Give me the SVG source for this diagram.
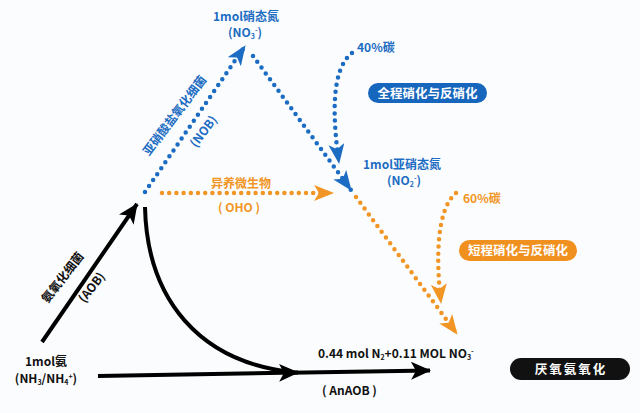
<svg xmlns="http://www.w3.org/2000/svg" width="640" height="413" viewBox="0 0 640 413">
<style>
text{font-family:"Noto Sans CJK SC","Noto Sans",sans-serif;font-weight:bold;}
.b{fill:#1b6cc2;font-size:12px;}
.o{fill:#f19524;font-size:12px;}
.k{fill:#111;font-size:12px;}
.w{fill:#fff;font-size:12.5px;}
.db{fill:none;stroke:#1b6cc2;stroke-width:4.5;stroke-linecap:round;stroke-dasharray:0 7.2;}
.do{fill:none;stroke:#f19524;stroke-width:4.5;stroke-linecap:round;stroke-dasharray:0 7.2;}
.sk{fill:none;stroke:#000;stroke-width:4;}
</style>
<defs>
<marker id="ab" viewBox="0 0 20 16" refX="19" refY="8" markerWidth="20" markerHeight="16" markerUnits="userSpaceOnUse" orient="auto"><path d="M0,0 L20,8 L0,16 L5,8 z" fill="#1b6cc2"/></marker>
<marker id="ao" viewBox="0 0 20 16" refX="19" refY="8" markerWidth="20" markerHeight="16" markerUnits="userSpaceOnUse" orient="auto"><path d="M0,0 L20,8 L0,16 L5,8 z" fill="#f19524"/></marker>
<marker id="ak" viewBox="0 0 20 18" refX="19" refY="9" markerWidth="20" markerHeight="18" markerUnits="userSpaceOnUse" orient="auto"><path d="M0,0 L20,9 L0,18 L5,9 z" fill="#000"/></marker>
</defs>
<rect width="640" height="413" fill="#fbfcfd"/>
<g id="connectors">
<path class="db" d="M145,192 L245,46" marker-end="url(#ab)"/>
<path class="db" d="M253,56 L351,190" marker-end="url(#ab)"/>
<path class="db" d="M352,53 C330,70 333,120 339,163" marker-end="url(#ab)"/>
<path class="do" d="M162,193 L333,193" marker-end="url(#ao)"/>
<path class="do" d="M356,197 L457,334" marker-end="url(#ao)"/>
<path class="do" d="M456,193 C436,210 436,260 441,303" marker-end="url(#ao)"/>
<path class="sk" d="M42,342 L137,204" marker-end="url(#ak)"/>
<path class="sk" d="M145,207 C147,300 200,362 292,372"/>
<path class="sk" d="M98,376 L298,372.5" marker-end="url(#ak)"/>
<path class="sk" d="M290,372.7 L430,370.5" marker-end="url(#ak)"/>
</g>
<g id="ammonia">
<text class="k" x="46" y="366" text-anchor="middle">1mol氨</text>
<text class="k" x="46" y="383" text-anchor="middle" font-size="11">(NH<tspan font-size="7" dy="2">3</tspan><tspan dy="-2">/NH</tspan><tspan font-size="7" dy="2">4</tspan><tspan font-size="7" dy="-6">+</tspan><tspan dy="4">)</tspan></text>
</g>
<g id="aob-label">
<text class="k" font-size="11" transform="translate(66,280) rotate(-52)" text-anchor="middle">氨氧化细菌</text>
<text class="k" font-size="11" transform="translate(95,290) rotate(-52)" text-anchor="middle">(AOB)</text>
</g>
<g id="nitrate">
<text class="b" x="246" y="21" text-anchor="middle">1mol硝态氮</text>
<text class="b" x="245" y="37" text-anchor="middle">(NO<tspan font-size="7" dy="2">3</tspan><tspan font-size="7" dy="-6">-</tspan><tspan dy="4">)</tspan></text>
</g>
<g id="nob-label">
<text class="b" font-size="11" transform="translate(178,118) rotate(-53)" text-anchor="middle">亚硝酸盐氧化细菌</text>
<text class="b" font-size="11" transform="translate(207,134) rotate(-53)" text-anchor="middle">(NOB)</text>
</g>
<g id="carbon40">
<text class="b" x="357" y="52" font-size="11">40%碳</text>
</g>
<g id="full-pill">
<rect x="368" y="83" width="119" height="20" rx="10" fill="#1666bd"/>
<text class="w" x="427.5" y="97.5" text-anchor="middle">全程硝化与反硝化</text>
</g>
<g id="nitrite">
<text class="b" x="402" y="169" text-anchor="middle">1mol亚硝态氮</text>
<text class="b" x="404" y="185" text-anchor="middle">(NO<tspan font-size="7" dy="2">2</tspan><tspan font-size="7" dy="-6">-</tspan><tspan dy="4">)</tspan></text>
</g>
<g id="oho">
<text class="o" x="241" y="188" text-anchor="middle">异养微生物</text>
<text class="o" x="239" y="212" text-anchor="middle">( OHO )</text>
</g>
<g id="carbon60">
<text class="o" x="463" y="203" font-size="11">60%碳</text>
</g>
<g id="short-pill">
<rect x="459" y="240" width="118" height="21" rx="10.5" fill="#f0901e"/>
<text class="w" x="518" y="255" text-anchor="middle">短程硝化与反硝化</text>
</g>
<g id="product">
<text class="k" x="318" y="358">0.44 mol  N<tspan font-size="7" dy="2">2</tspan><tspan dy="-2">+0.11 MOL NO</tspan><tspan font-size="7" dy="2">3</tspan><tspan font-size="7" dy="-6">-</tspan></text>
<text class="k" x="322" y="395">( AnAOB )</text>
</g>
<g id="anammox-pill">
<rect x="510" y="358" width="120" height="22" rx="11" fill="#111"/>
<text class="w" x="571" y="373.5" text-anchor="middle" letter-spacing="2">厌氧氨氧化</text>
</g>
</svg>
